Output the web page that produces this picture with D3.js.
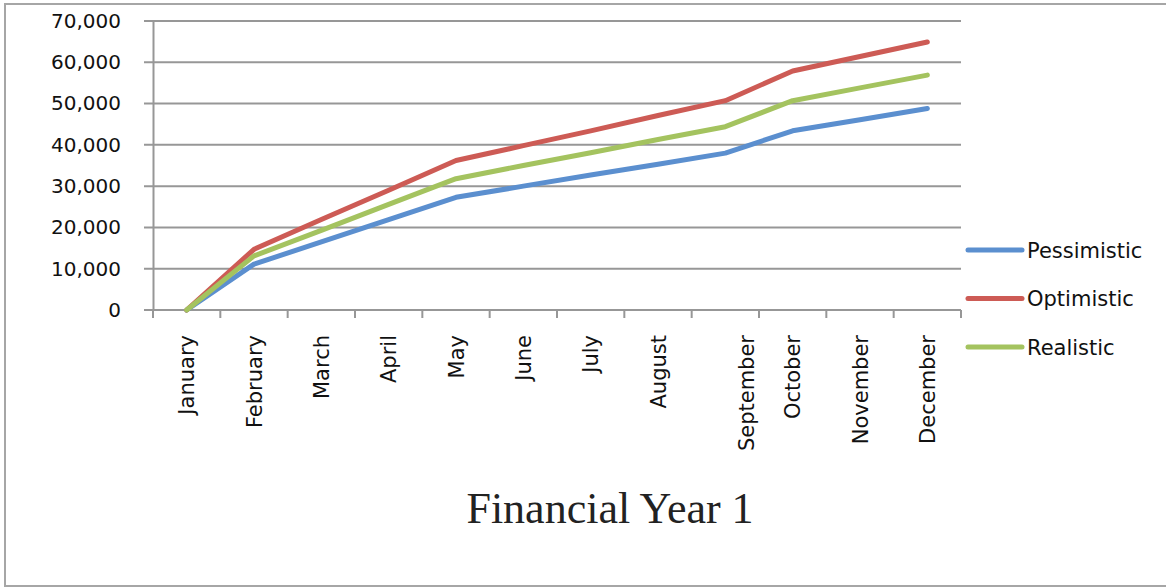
<!DOCTYPE html>
<html>
<head>
<meta charset="utf-8">
<script src="https://cdnjs.cloudflare.com/ajax/libs/d3/7.8.5/d3.min.js"></script>
<style>
  body { margin: 0; background: #fff; }
  text { font-family: "DejaVu Sans", sans-serif; fill: #111; }
</style>
</head>
<body>
<div id="chartdiv"></div>
<script>
// chart values
var months = ["January", "February", "March", "April", "May", "June",
              "July", "August", "September", "October", "November", "December"];
var pessimistic = [0, 11100, 16500, 21900, 27300, 30000, 32700, 35300, 38000, 43400, 46100, 48800];
var optimistic  = [0, 14700, 21900, 29000, 36200, 39800, 43400, 47100, 50700, 57900, 61400, 64900];
var realistic   = [0, 13100, 19300, 25600, 31800, 35000, 38100, 41300, 44400, 50700, 53800, 56900];
var yTicks = [0, 10000, 20000, 30000, 40000, 50000, 60000, 70000];
var seriesNames = ["Pessimistic", "Optimistic", "Realistic"];
var chartTitle = "Financial Year 1";

var width = 1166,
    height = 588;

var colors = ["#5B8FCF", "#CD5B55", "#A4C35F"];
var series = [pessimistic, optimistic, realistic];

var svg = d3.select("#chartdiv")
    .append("svg")
    .attr("width", width)
    .attr("height", height);

// outer chart border
svg.append("rect")
    .attr("x", 5)
    .attr("y", 4)
    .attr("width", width + 20)
    .attr("height", 582)
    .attr("fill", "none")
    .attr("stroke", "#a6a6a6")
    .attr("stroke-width", 2);

// plot area edges ("top" is taken by window.top)
var plotLeft = 153, plotRight = 961, plotTop = 21, plotBottom = 310;

var x = d3.scaleBand()
    .domain(months)
    .range([plotLeft, plotRight])
    .padding(0);

var y = d3.scaleLinear()
    .domain([0, 70000])
    .range([plotBottom, plotTop]);

// gridlines
svg.append("g")
    .selectAll("line")
    .data(yTicks)
    .enter()
    .append("line")
    .attr("x1", plotLeft - 9)
    .attr("x2", plotRight)
    .attr("y1", function (d) { return y(d); })
    .attr("y2", function (d) { return y(d); })
    .attr("stroke", "#979797")
    .attr("stroke-width", 2);

// y axis
var yAxis = svg.append("g")
    .attr("transform", "translate(" + plotLeft + ",0)")
    .call(d3.axisLeft(y)
        .tickValues(yTicks)
        .tickFormat(d3.format(","))
        .tickSize(0)
        .tickPadding(32));
yAxis.select(".domain")
    .attr("stroke", "#979797")
    .attr("stroke-width", 2);
yAxis.selectAll("text")
    .style("font-size", "20px")
    .style("font-family", "DejaVu Sans, sans-serif")
    .attr("fill", "#111");

// x ticks at band edges
var edges = months.map(function (m) { return x(m); }).concat([plotRight]);
svg.append("g")
    .selectAll("line")
    .data(edges)
    .enter()
    .append("line")
    .attr("x1", function (d) { return d; })
    .attr("x2", function (d) { return d; })
    .attr("y1", plotBottom)
    .attr("y2", plotBottom + 8)
    .attr("stroke", "#979797")
    .attr("stroke-width", 2);

// x labels, rotated
var labelShift = { "September": 21 };
svg.append("g")
    .selectAll("text")
    .data(months)
    .enter()
    .append("text")
    .attr("transform", function (d) {
        var cx = x(d) + x.bandwidth() / 2 + (labelShift[d] || 0);
        return "translate(" + cx + "," + (plotBottom + 25) + ") rotate(-90)";
    })
    .attr("dy", "0.36em")
    .attr("text-anchor", "end")
    .style("font-size", "21px")
    .text(function (d) { return d; });

// lines
var line = d3.line()
    .x(function (d, i) { return x(months[i]) + x.bandwidth() / 2; })
    .y(function (d) { return y(d); });

svg.append("g")
    .selectAll("path")
    .data(series)
    .enter()
    .append("path")
    .attr("fill", "none")
    .attr("stroke", function (d, i) { return colors[i]; })
    .attr("stroke-width", 5)
    .attr("stroke-linecap", "round")
    .attr("stroke-linejoin", "round")
    .attr("d", line);

// legend
var legend = svg.append("g")
    .selectAll("g")
    .data(seriesNames)
    .enter()
    .append("g")
    .attr("transform", function (d, i) { return "translate(968," + (250 + i * 48.5) + ")"; });
legend.append("line")
    .attr("x1", 0)
    .attr("x2", 54)
    .attr("stroke", function (d, i) { return colors[i]; })
    .attr("stroke-width", 5)
    .attr("stroke-linecap", "round");
legend.append("text")
    .attr("x", 59)
    .attr("dy", "0.36em")
    .style("font-size", "21px")
    .text(function (d) { return d; });

// title
svg.append("text")
    .attr("x", 610)
    .attr("y", 523)
    .attr("text-anchor", "middle")
    .style("font-family", "Liberation Serif, serif")
    .style("font-size", "44px")
    .style("fill", "#222")
    .text(chartTitle);
</script>
</body>
</html>
